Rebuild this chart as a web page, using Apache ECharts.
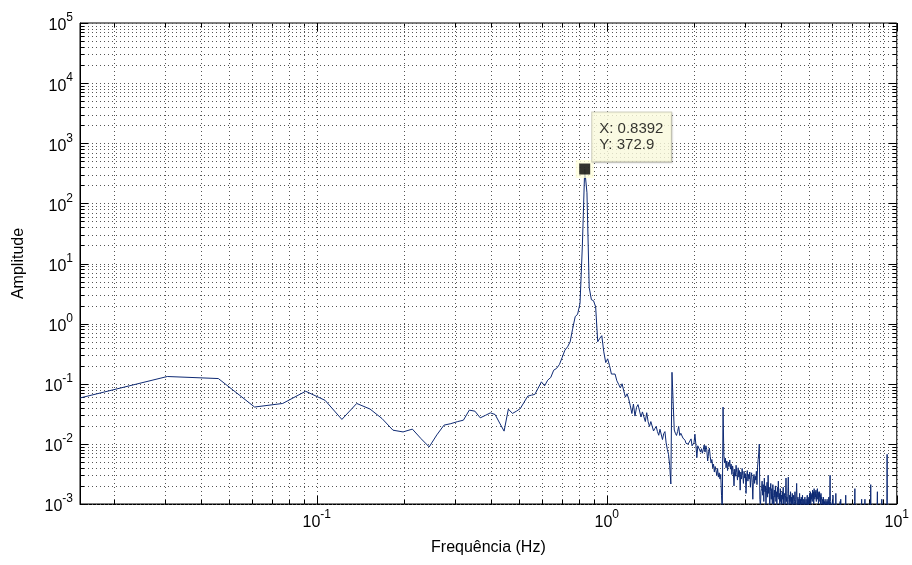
<!DOCTYPE html>
<html>
<head>
<meta charset="utf-8">
<script src="https://cdn.jsdelivr.net/npm/echarts@6/dist/echarts.min.js"></script>
<style>
html,body{margin:0;padding:0;background:#fff;}
#chart{width:912px;height:565px;}
</style>
</head>
<body>
<div id="chart"></div>
<script>
// FFT bin spacing (Hz); bin k (k = 1..655) sits at k * binWidth
const binWidth = 0.015258;

// amplitude of bins 1..60
const ampLow = [
  0.058,0.132,0.122,0.041,0.047,0.075,0.053,0.0255,0.047,0.038,
  0.0264,0.0169,0.0158,0.0176,0.0122,0.0089,0.0141,0.0205,0.0217,0.0234,
  0.0248,0.0364,0.035,0.0271,0.0298,0.0328,0.0308,0.0222,0.0163,0.0378,
  0.0321,0.035,0.0388,0.0494,0.0622,0.0645,0.0664,0.0845,0.1077,0.0923,
  0.1148,0.127,0.168,0.18,0.209,0.274,0.362,0.411,0.498,0.83,
  1.3,1.44,2.17,20.2,372.9,150,4.0,2.5,2.4,1.9
];
// bins 61..160
const ampMid = [
  0.50,0.57,0.63,0.34,0.225,0.26,0.2,0.145,0.138,0.145,
  0.112,0.098,0.085,0.1,0.076,0.06,0.068,0.056,0.043,0.032,
  0.046,0.029,0.0405,0.045,0.044,0.028,0.034,0.033,0.0235,0.033,
  0.0235,0.0195,0.0235,0.024,0.0164,0.018,0.0195,0.016,0.0139,0.0175,
  0.0172,0.0118,0.0148,0.016,0.0104,0.0081,0.0067,0.0044,0.00215,0.155,
  0.05,0.017,0.015,0.0138,0.016,0.0195,0.0138,0.015,0.0145,0.0125,
  0.0122,0.0115,0.0102,0.011,0.0099,0.0104,0.0096,0.0121,0.0093,0.009,
  0.0104,0.0145,0.0096,0.0059,0.0093,0.0096,0.0093,0.0073,0.0083,0.007,
  0.008,0.0096,0.0073,0.0093,0.008,0.0052,0.007,0.0085,0.0062,0.0048,
  0.0055,0.004,0.0046,0.0034,0.0042,0.0036,0.003,0.0039,0.0028,0.0033
];
// bins 161..400
const ampHigh = [
  0.0026,0.0031,0.0014,0.0007,0.041,0.0065,0.0048,0.0058,0.004,0.0052,
  0.0036,0.0049,0.0042,0.0054,0.0038,0.0046,0.0031,0.0043,0.0035,0.002,
  0.0038,0.0029,0.0044,0.0033,0.0025,0.004,0.0028,0.0036,0.0017,0.0034,
  0.0026,0.0039,0.003,0.0022,0.0035,0.0027,0.0032,0.0015,0.0029,0.0036,
  0.0024,0.0031,0.0026,0.0034,0.0019,0.0028,0.0033,0.0023,0.0012,0.0027,
  0.0031,0.0022,0.0029,0.0025,0.0035,0.0021,0.0041,0.0055,0.0068,0.0099,
  0.0012,0.0009,0.0016,0.0018,0.0024,0.0014,0.0021,0.0011,0.0027,0.0016,
  0.002,0.0009,0.0017,0.0023,0.0013,0.003,0.0015,0.0019,0.0008,0.0016,
  0.0022,0.0012,0.0018,0.001,0.0021,0.0014,0.0007,0.0017,0.0013,0.002,
  0.0011,0.0016,0.0009,0.0019,0.0013,0.0024,0.0012,0.0015,0.0008,0.0018,
  0.0011,0.0014,0.0006,0.0016,0.0012,0.0019,0.001,0.0013,0.0015,0.0009,
  0.0014,0.0027,0.0011,0.0013,0.0008,0.0015,0.0028,0.0012,0.0009,0.0014,
  0.0011,0.0016,0.0007,0.0013,0.001,0.0015,0.0008,0.0012,0.0014,0.0009,
  0.0011,0.0016,0.0012,0.0008,0.0014,0.0022,0.0011,0.0009,0.0013,0.0007,
  0.0012,0.001,0.0015,0.0009,0.0012,0.0006,0.0013,0.0011,0.0008,0.0014,
  0.001,0.0007,0.0012,0.0011,0.0009,0.0013,0.0006,0.001,0.0012,0.0008,
  0.0011,0.0014,0.0009,0.0012,0.0007,0.0013,0.001,0.0015,0.0011,0.0016,
  0.0009,0.0014,0.0012,0.0015,0.0011,0.0017,0.0013,0.0016,0.001,0.0018,
  0.0014,0.0012,0.0016,0.0013,0.0017,0.0011,0.0015,0.0014,0.0018,0.0012,
  0.0016,0.001,0.0015,0.0013,0.0016,0.0011,0.0014,0.0009,0.0015,0.0012,
  0.0013,0.0008,0.0011,0.0012,0.0009,0.0013,0.0007,0.001,0.0011,0.0008,
  0.0012,0.0006,0.0009,0.0011,0.0007,0.001,0.0012,0.0008,0.0011,0.0006,
  0.0009,0.0013,0.0007,0.0009,0.0014,0.003,0.0011,0.0008,0.001,0.0006,
  0.0009,0.0007,0.0011,0.0008,0.0014,0.0007,0.0009,0.0006,0.0008,0.001
];
// bins 401..655
const ampTail = [
  0.0007,0.0005,0.0008,0.0015,0.0008,0.0006,0.0009,0.0007,0.0005,0.0008,
  0.0006,0.0009,0.0007,0.0005,0.0008,0.0006,0.0009,0.0011,0.0007,0.0012,
  0.0006,0.0008,0.0005,0.0007,0.0009,0.0006,0.0008,0.0005,0.0007,0.0006,
  0.0009,0.0007,0.0008,0.0006,0.001,0.0008,0.0014,0.0007,0.0005,0.0008,
  0.0006,0.0007,0.0009,0.0006,0.0005,0.0008,0.0007,0.0006,0.0009,0.0005,
  0.0007,0.0006,0.0008,0.0007,0.0005,0.0006,0.0008,0.0006,0.0007,0.0005,
  0.0009,0.0006,0.0007,0.0008,0.0006,0.0007,0.0005,0.0009,0.0011,0.0018,
  0.0008,0.0006,0.0007,0.0005,0.0007,0.0006,0.0008,0.0006,0.0005,0.0007,
  0.0009,0.0006,0.0005,0.0007,0.0006,0.0008,0.0005,0.0006,0.0007,0.0009,
  0.0006,0.0005,0.0008,0.0007,0.0009,0.0012,0.0006,0.0005,0.0007,0.0006,
  0.0008,0.0005,0.0007,0.0006,0.0008,0.0007,0.0005,0.0009,0.0012,0.0006,
  0.0007,0.0005,0.0006,0.0008,0.0006,0.0005,0.0007,0.0006,0.0008,0.0005,
  0.0007,0.0006,0.0005,0.0007,0.0006,0.0008,0.0005,0.0007,0.0006,0.0009,
  0.0011,0.0008,0.0021,0.0007,0.0006,0.0005,0.0008,0.0006,0.0007,0.0005,
  0.0006,0.0008,0.0005,0.0007,0.0006,0.0005,0.0008,0.0006,0.0007,0.0005,
  0.0006,0.0007,0.0005,0.0006,0.0008,0.0005,0.0007,0.0006,0.0009,0.0008,
  0.0011,0.0016,0.0007,0.0005,0.0006,0.0007,0.0005,0.0008,0.0006,0.0005,
  0.0007,0.0006,0.0005,0.0007,0.0006,0.0005,0.0008,0.0006,0.0007,0.0009,
  0.0008,0.0012,0.0006,0.0005,0.0007,0.0006,0.0005,0.0008,0.0006,0.0007,
  0.0005,0.0006,0.0007,0.0005,0.0006,0.0008,0.0006,0.0005,0.0007,0.0006,
  0.0005,0.0007,0.0006,0.0008,0.0007,0.0009,0.0067,0.0008,0.0006,0.0005,
  0.0007,0.0006,0.0005,0.0007,0.0006,0.0005,0.0008,0.0006,0.0005,0.0007,
  0.0006,0.0005,0.0007,0.0006,0.0005,0.0008,0.0006,0.0007,0.0005,0.0006,
  0.0007,0.0005,0.0006,0.0005,0.0007,0.0006,0.0005,0.0008,0.0006,0.0005,
  0.0007,0.0006,0.0005,0.0007,0.0006,0.0005,0.0006,0.0008,0.0005,0.0006,
  0.0007,0.0005,0.0006,0.0005,0.0006
];

// data tip
const tipX = 0.8392;
const tipY = 372.9;

// axis ranges and tick decades
const xMin = binWidth, xMax = 10;
const yMin = 0.001, yMax = 100000;
const xDecades = [0.01, 0.1, 1];
const yDecades = [0.001, 0.01, 0.1, 1, 10, 100, 1000, 10000];
const mantissas = [2, 3, 4, 5, 6, 7, 8, 9];

const xTitle = 'Frequência (Hz)';
const yTitle = 'Amplitude';

// ---- build ----
const amps = ampLow.concat(ampMid, ampHigh, ampTail);
const seriesData = amps.map((a, i) => [(i + 1) * binWidth, a]);

function ticksFor(decades, lo, hi) {
  const out = [];
  decades.forEach(d => {
    if (d >= lo * 0.999 && d <= hi * 1.001) out.push({ v: d, major: true });
    mantissas.forEach(m => {
      const v = +(m * d).toPrecision(6);
      if (v >= lo && v <= hi * 1.001) out.push({ v: v, major: false });
    });
  });
  if (Math.abs(hi - Math.pow(10, Math.round(Math.log10(hi)))) < 1e-9) out.push({ v: hi, major: true });
  return out;
}
const xTicks = ticksFor(xDecades, xMin, xMax);
const yTicks = ticksFor(yDecades, yMin, yMax);

const F = '"Liberation Sans", Arial, Helvetica, sans-serif';
const lineColor = '#0e2a74';

function powLabel(v) {
  const l = Math.log10(v);
  const e = Math.round(l);
  if (Math.abs(l - e) > 1e-6) return '';
  return '{b|10}{e|' + e + '}';
}
const richLbl = {
  b: { fontSize: 16, fontFamily: F, color: '#000', verticalAlign: 'bottom', lineHeight: 22 },
  e: { fontSize: 12, fontFamily: F, color: '#000', verticalAlign: 'top', lineHeight: 22 }
};

function gridLineItem(params, api, vertical) {
  const v = api.value(vertical ? 0 : 1);
  const major = api.value(2) === 1;
  const children = [];
  const dash = { stroke: '#555', lineWidth: 1, lineDash: [1, 3] };
  const solid = { stroke: '#000', lineWidth: 1 };
  const tl = major ? 8 : 4;
  if (vertical) {
    const a = api.coord([v, yMax]);
    const b = api.coord([v, yMin]);
    const x = Math.round(a[0]) + 0.5;
    children.push({ type: 'line', shape: { x1: x, y1: a[1], x2: x, y2: b[1] }, style: dash, silent: true });
    children.push({ type: 'line', shape: { x1: x, y1: b[1], x2: x, y2: b[1] - tl }, style: solid, silent: true });
    children.push({ type: 'line', shape: { x1: x, y1: a[1], x2: x, y2: a[1] + tl }, style: solid, silent: true });
  } else {
    const a = api.coord([xMin, v]);
    const b = api.coord([xMax, v]);
    const y = Math.round(a[1]) + 0.5;
    children.push({ type: 'line', shape: { x1: a[0], y1: y, x2: b[0], y2: y }, style: dash, silent: true });
    children.push({ type: 'line', shape: { x1: a[0], y1: y, x2: a[0] + tl, y2: y }, style: solid, silent: true });
    children.push({ type: 'line', shape: { x1: b[0], y1: y, x2: b[0] - tl, y2: y }, style: solid, silent: true });
  }
  return { type: 'group', children: children };
}

const chart = echarts.init(document.getElementById('chart'), null, { renderer: 'canvas' });
chart.setOption({
  animation: false,
  backgroundColor: '#fff',
  textStyle: { fontFamily: F },
  grid: { left: 80, right: 15, top: 23, bottom: 61, show: true, borderColor: '#000', borderWidth: 1, backgroundColor: '#fff' },
  xAxis: {
    type: 'log', logBase: 10, min: xMin, max: xMax, splitNumber: 3,
    name: xTitle, nameLocation: 'middle', nameGap: 36,
    nameTextStyle: { fontSize: 16, fontFamily: F, color: '#000' },
    axisLine: { show: true, lineStyle: { color: '#000', width: 1 } },
    axisTick: { show: false }, splitLine: { show: false },
    axisLabel: { formatter: powLabel, margin: 5, rich: richLbl, showMinLabel: false }
  },
  yAxis: {
    type: 'log', logBase: 10, min: yMin, max: yMax, splitNumber: 8,
    name: yTitle, nameLocation: 'middle', nameGap: 53,
    nameTextStyle: { fontSize: 16, fontFamily: F, color: '#000' },
    axisLine: { show: true, lineStyle: { color: '#000', width: 1 } },
    axisTick: { show: false }, splitLine: { show: false },
    axisLabel: { formatter: powLabel, margin: 7, rich: richLbl }
  },
  series: [
    {
      type: 'custom', z: 1, silent: true, clip: false,
      data: xTicks.map(t => [t.v, yMin, t.major ? 1 : 0]),
      renderItem: (p, api) => gridLineItem(p, api, true)
    },
    {
      type: 'custom', z: 1, silent: true, clip: false,
      data: yTicks.map(t => [xMin, t.v, t.major ? 1 : 0]),
      renderItem: (p, api) => gridLineItem(p, api, false)
    },
    {
      type: 'line', z: 3, data: seriesData, showSymbol: false, symbol: 'none', clip: true,
      lineStyle: { color: lineColor, width: 1 }, silent: true
    },
    {
      type: 'scatter', z: 4, silent: true, data: [[tipX, tipY]],
      symbol: 'rect', symbolSize: 18, itemStyle: { color: '#ffffdc' }
    },
    {
      type: 'scatter', z: 5, silent: true, data: [[tipX, tipY]],
      symbol: 'rect', symbolSize: 11, itemStyle: { color: '#000' },
      label: {
        show: true, position: [13, -51], align: 'left', verticalAlign: 'top',
        formatter: 'X: ' + tipX + '\nY: ' + tipY,
        fontFamily: F, fontSize: 15, lineHeight: 16, color: '#000',
        backgroundColor: '#ffffe1', borderColor: '#c4c4b0', borderWidth: 1,
        padding: [8, 7, 9, 7], width: 65,
        shadowColor: 'rgba(0,0,0,0.12)', shadowOffsetX: 1, shadowOffsetY: 1, shadowBlur: 1
      }
    }
  ]
});
</script>
</body>
</html>
